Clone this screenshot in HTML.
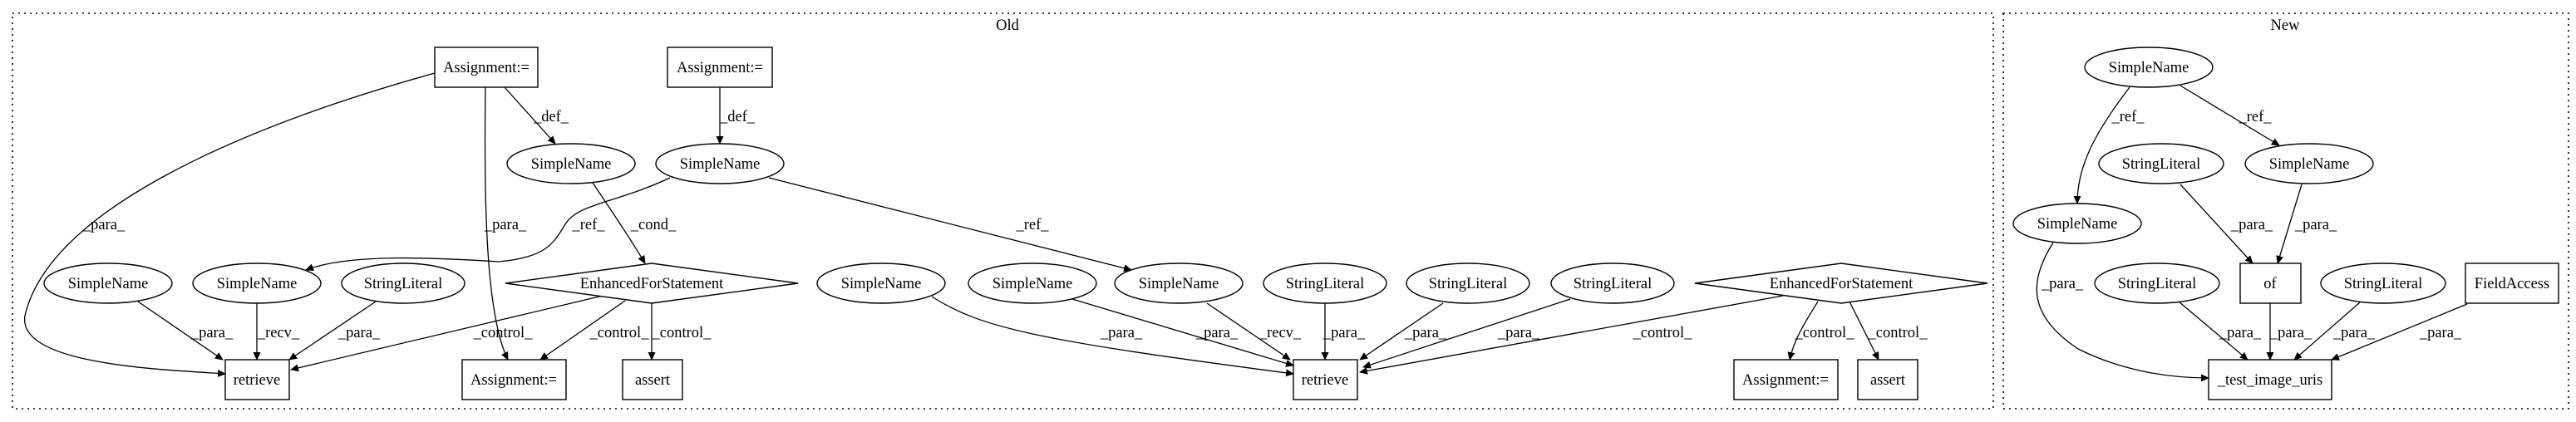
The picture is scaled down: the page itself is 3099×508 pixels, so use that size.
<!DOCTYPE html>
<html><head><meta charset="utf-8"><style>body{margin:0;background:#fff}svg{display:block}svg text{font-family:"Liberation Serif","Times New Roman",serif}</style></head>
<body>
<svg width="3099" height="508" viewBox="0 0 3099 508" xmlns="http://www.w3.org/2000/svg" font-size="18.5">
<defs><marker id="a" markerWidth="10" markerHeight="9" refX="9" refY="4.5" orient="auto" markerUnits="userSpaceOnUse"><path d="M0,0 L10,4.5 L0,9 z" fill="#000"/></marker></defs>
<g fill="none" stroke="#000" stroke-width="1.6" stroke-dasharray="2,5">
<rect x="15" y="16" width="2383" height="476"/>
<rect x="2410" y="16" width="680" height="476"/>
</g>
<g text-anchor="middle">
<text x="1212" y="36">Old</text>
<text x="2749" y="36">New</text>
</g>
<g fill="none" stroke="#000" stroke-width="1.3" marker-end="url(#a)">
<path d="M523,88 C300,150 60,250 30,380 C20,440 200,445 271,450"/>
<path d="M584,105 C582,250 585,380 611,433"/>
<path d="M607,105 L668,173"/>
<path d="M866,105 L866,173"/>
<path d="M713,220 C740,260 760,290 776,317"/>
<path d="M806,214 C740,245 695,245 680,270 C665,295 655,310 600,315 C520,310 420,305 368,325"/>
<path d="M925,214 L1361,325"/>
<path d="M166,363 L268,433"/>
<path d="M309,365 L309,433"/>
<path d="M452,363 L348,433"/>
<path d="M725,356 L350,445"/>
<path d="M752,362 L650,433"/>
<path d="M784,365 L784,433"/>
<path d="M1121,357 C1180,395 1250,410 1556,450"/>
<path d="M1290,360 L1556,440"/>
<path d="M1452,365 L1552,433"/>
<path d="M1594,365 L1594,433"/>
<path d="M1736,365 L1636,433"/>
<path d="M1889,360 L1640,442"/>
<path d="M2145,356 L1636,448"/>
<path d="M2187,363 C2170,390 2158,410 2153,433"/>
<path d="M2225,363 L2260,433"/>
<path d="M2562,105 C2520,160 2499,200 2499,245"/>
<path d="M2623,103 L2742,175"/>
<path d="M2623,222 L2710,317"/>
<path d="M2769,222 L2740,317"/>
<path d="M2470,292 C2440,340 2440,380 2500,420 C2560,450 2620,455 2657,455"/>
<path d="M2621,363 L2704,433"/>
<path d="M2731,365 L2731,433"/>
<path d="M2839,364 L2760,433"/>
<path d="M2968,366 L2805,433"/>
</g>
<g text-anchor="middle">
<text x="125" y="276">_para_</text>
<text x="608" y="276">_para_</text>
<text x="663" y="146">_def_</text>
<text x="887" y="146">_def_</text>
<text x="786" y="276">_cond_</text>
<text x="708" y="276">_ref_</text>
<text x="1242" y="276">_ref_</text>
<text x="255" y="406">_para_</text>
<text x="335" y="406">_recv_</text>
<text x="432" y="406">_para_</text>
<text x="605" y="406">_control_</text>
<text x="745" y="406">_control_</text>
<text x="820" y="406">_control_</text>
<text x="1349" y="406">_para_</text>
<text x="1464" y="406">_para_</text>
<text x="1540" y="406">_recv_</text>
<text x="1617" y="406">_para_</text>
<text x="1715" y="406">_para_</text>
<text x="1827" y="406">_para_</text>
<text x="2000" y="406">_control_</text>
<text x="2195" y="406">_control_</text>
<text x="2283" y="406">_control_</text>
<text x="2560" y="146">_ref_</text>
<text x="2713" y="146">_ref_</text>
<text x="2709" y="276">_para_</text>
<text x="2786" y="276">_para_</text>
<text x="2481" y="347">_para_</text>
<text x="2695" y="406">_para_</text>
<text x="2756" y="406">_para_</text>
<text x="2832" y="406">_para_</text>
<text x="2936" y="406">_para_</text>
</g>
<g fill="#fff" stroke="#000" stroke-width="1.4">
<rect x="523" y="57" width="124" height="48"/>
<rect x="803" y="57" width="126" height="48"/>
<ellipse cx="687" cy="197" rx="77" ry="24"/>
<ellipse cx="866" cy="197" rx="77" ry="24"/>
<ellipse cx="130" cy="341" rx="77" ry="24"/>
<ellipse cx="309" cy="341" rx="77" ry="24"/>
<ellipse cx="485" cy="341" rx="74" ry="24"/>
<polygon points="608,341 784,317 960,341 784,365"/>
<ellipse cx="1060" cy="341" rx="77" ry="24"/>
<ellipse cx="1242" cy="341" rx="77" ry="24"/>
<ellipse cx="1418" cy="341" rx="77" ry="24"/>
<ellipse cx="1594" cy="341" rx="74" ry="24"/>
<ellipse cx="1766" cy="341" rx="74" ry="24"/>
<ellipse cx="1940" cy="341" rx="74" ry="24"/>
<polygon points="2039,341 2215,317 2391,341 2215,365"/>
<rect x="271" y="433" width="77" height="48"/>
<rect x="556" y="433" width="125" height="48"/>
<rect x="749" y="433" width="72" height="48"/>
<rect x="1556" y="433" width="77" height="48"/>
<rect x="2086" y="433" width="125" height="48"/>
<rect x="2235" y="433" width="72" height="48"/>
<ellipse cx="2585" cy="81" rx="77" ry="24"/>
<ellipse cx="2600" cy="197" rx="75" ry="24"/>
<ellipse cx="2778" cy="197" rx="77" ry="24"/>
<ellipse cx="2499" cy="269" rx="77" ry="24"/>
<ellipse cx="2595" cy="341" rx="75" ry="24"/>
<rect x="2695" y="317" width="73" height="48"/>
<ellipse cx="2867" cy="341" rx="75" ry="24"/>
<rect x="2966" y="317" width="112" height="48"/>
<rect x="2657" y="433" width="148" height="48"/>
</g>
<g text-anchor="middle">
<text x="585" y="87">Assignment:=</text>
<text x="866" y="87">Assignment:=</text>
<text x="687" y="203">SimpleName</text>
<text x="866" y="203">SimpleName</text>
<text x="130" y="347">SimpleName</text>
<text x="309" y="347">SimpleName</text>
<text x="485" y="347">StringLiteral</text>
<text x="784" y="347">EnhancedForStatement</text>
<text x="1060" y="347">SimpleName</text>
<text x="1242" y="347">SimpleName</text>
<text x="1418" y="347">SimpleName</text>
<text x="1594" y="347">StringLiteral</text>
<text x="1766" y="347">StringLiteral</text>
<text x="1940" y="347">StringLiteral</text>
<text x="2215" y="347">EnhancedForStatement</text>
<text x="309" y="463">retrieve</text>
<text x="618" y="463">Assignment:=</text>
<text x="785" y="463">assert</text>
<text x="1594" y="463">retrieve</text>
<text x="2148" y="463">Assignment:=</text>
<text x="2271" y="463">assert</text>
<text x="2585" y="87">SimpleName</text>
<text x="2600" y="203">StringLiteral</text>
<text x="2778" y="203">SimpleName</text>
<text x="2499" y="275">SimpleName</text>
<text x="2595" y="347">StringLiteral</text>
<text x="2731" y="347">of</text>
<text x="2867" y="347">StringLiteral</text>
<text x="3022" y="347">FieldAccess</text>
<text x="2731" y="463">_test_image_uris</text>
</g>
</svg>
</body></html>
